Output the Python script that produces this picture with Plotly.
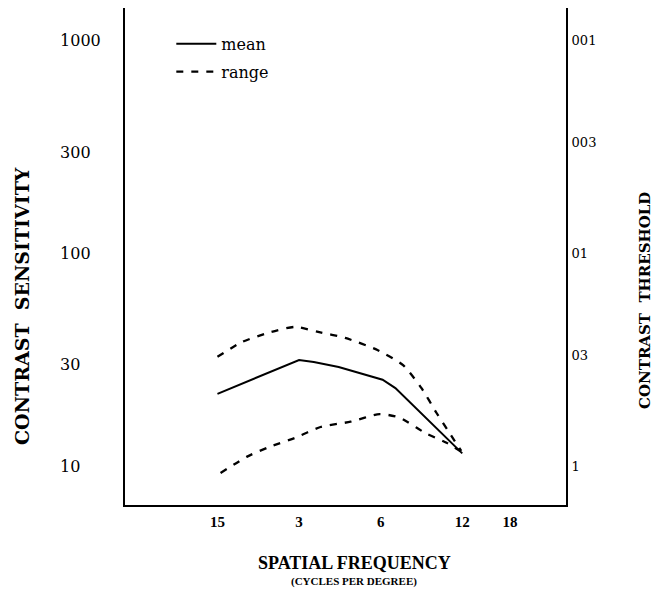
import plotly.graph_objects as go

# ---- data ----
freq_ticks = [1.5, 3, 6, 12, 18]
freq_tick_labels = ["15", "3", "6", "12", "18"]

sens_ticks = [1000, 300, 100, 30, 10]
sens_tick_labels = ["1000", "300\u00a0\u00a0", "100\u00a0\u00a0", "30\u00a0\u00a0\u00a0\u00a0", "10\u00a0\u00a0\u00a0\u00a0"]

thr_ticks = [0.001, 0.003, 0.01, 0.03, 0.1]
thr_tick_labels = ["001", "003", "01", "03", "1"]

mean_freq = [1.5, 3.0, 3.4, 4.2, 6.1, 6.8, 12.0]
mean_sens = [21.9, 31.6, 30.9, 29.3, 25.5, 23.3, 11.5]

upper_freq = [1.5, 1.85, 2.37, 2.9, 3.53, 4.44, 5.84, 7.26, 8.49, 9.65, 10.9, 11.9]
upper_sens = [32.7, 38.4, 42.8, 45.2, 42.8, 40.1, 35.2, 29.9, 23.3, 17.8, 14.0, 11.8]

lower_freq = [1.54, 1.93, 2.32, 2.9, 3.6, 4.65, 5.95, 7.07, 8.79, 10.5, 11.8]
lower_sens = [9.3, 11.1, 12.3, 13.6, 15.3, 16.2, 17.6, 16.9, 14.3, 12.9, 11.8]

# ---- figure ----
fig = go.Figure()

fig.add_trace(go.Scatter(x=mean_freq, y=mean_sens, mode="lines", name="mean",
                         line=dict(color="black", width=2), legendgroup="a"))
fig.add_trace(go.Scatter(x=upper_freq, y=upper_sens, mode="lines", name="range",
                         line=dict(color="black", width=2.3, dash="7px,8px", shape="spline", smoothing=0.6),
                         legendgroup="b"))
fig.add_trace(go.Scatter(x=lower_freq, y=lower_sens, mode="lines", name="range",
                         line=dict(color="black", width=2.3, dash="7px,8px", shape="spline", smoothing=0.6),
                         showlegend=False, legendgroup="b"))
# invisible companion on the threshold axis (threshold = 1 / sensitivity)
fig.add_trace(go.Scatter(x=mean_freq, y=[1 / v for v in mean_sens], yaxis="y2", mode="lines",
                         line=dict(color="rgba(0,0,0,0)"), showlegend=False, hoverinfo="skip"))

ymin_log, ymax_log = 0.818, 3.154

fig.update_layout(
    width=654, height=592,
    margin=dict(l=125, r=88, t=8, b=87),
    paper_bgcolor="white", plot_bgcolor="white",
    showlegend=True,
    legend=dict(x=0.105, y=0.962, xanchor="left", yanchor="top", itemwidth=40,
                font=dict(family="DejaVu Serif", size=16, color="black"),
                bgcolor="rgba(0,0,0,0)", tracegroupgap=4, traceorder="grouped"),
    xaxis=dict(type="log", range=[-0.165, 1.462], showline=True, linecolor="black", linewidth=2,
               showgrid=False, zeroline=False, ticks="",
               tickvals=freq_ticks, ticktext=freq_tick_labels, ticklabelstandoff=2,
               tickfont=dict(family="Liberation Serif", size=15, color="black", weight="bold")),
    yaxis=dict(type="log", range=[ymin_log, ymax_log], showline=True, linecolor="black", linewidth=2,
               showgrid=False, zeroline=False, ticks="",
               tickvals=sens_ticks, ticktext=sens_tick_labels, ticklabelstandoff=19,
               tickfont=dict(family="DejaVu Serif", size=16, color="black")),
    yaxis2=dict(type="log", overlaying="y", side="right", range=[-ymin_log, -ymax_log],
                showline=True, linecolor="black", linewidth=2, showgrid=False, zeroline=False,
                ticks="", tickvals=thr_ticks, ticktext=thr_tick_labels, ticklabelstandoff=1,
                tickfont=dict(family="DejaVu Serif", size=13, color="black")),
)

fig.add_annotation(text="CONTRAST\u00a0 SENSITIVITY", xref="paper", yref="paper",
                   x=(22 - 125) / 441, y=(505 - 306) / 497, textangle=-90,
                   showarrow=False, xanchor="center", yanchor="middle",
                   font=dict(family="DejaVu Serif", size=19, color="black", weight="bold"))
fig.add_annotation(text="CONTRAST\u00a0 THRESHOLD", xref="paper", yref="paper",
                   x=(645 - 125) / 441, y=(505 - 301) / 497, textangle=-90,
                   showarrow=False, xanchor="center", yanchor="middle",
                   font=dict(family="DejaVu Serif", size=15, color="black", weight="bold"))
fig.add_annotation(text="SPATIAL FREQUENCY", xref="paper", yref="paper",
                   x=(354 - 125) / 441, y=(505 - 563) / 497,
                   showarrow=False, xanchor="center", yanchor="middle",
                   font=dict(family="Liberation Serif", size=18, color="black", weight="bold"))
fig.add_annotation(text="(CYCLES PER DEGREE)", xref="paper", yref="paper",
                   x=(354 - 125) / 441, y=(505 - 581) / 497,
                   showarrow=False, xanchor="center", yanchor="middle",
                   font=dict(family="Liberation Serif", size=11, color="black", weight="bold"))

fig.write_html("out.html")
